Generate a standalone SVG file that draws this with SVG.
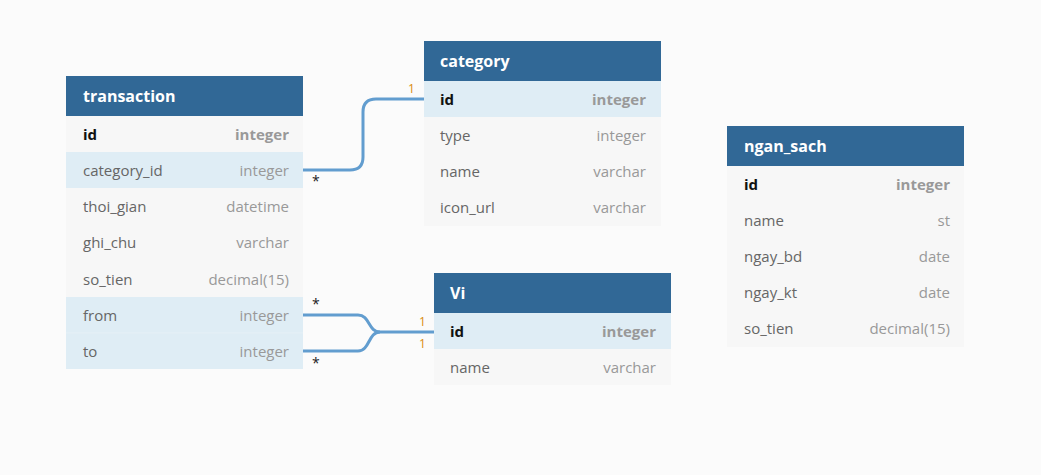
<svg xmlns="http://www.w3.org/2000/svg" width="1041" height="475" viewBox="0 0 1041 475">
<style>
.bg{fill:#fbfbfb}
.hd{fill:#316896}
.row{fill:#f7f7f7}
.hl{fill:#dfedf5}
.title{font-family:"Open Sans",sans-serif;font-size:16px;font-weight:bold;fill:#ffffff}
.fn{font-family:"Open Sans",sans-serif;font-size:15px;fill:#666666}
.fk{font-family:"Open Sans",sans-serif;font-size:15px;font-weight:bold;fill:#111111}
.ty{font-family:"Open Sans",sans-serif;font-size:15px;fill:#999999;text-anchor:end}
.tk{font-family:"Open Sans",sans-serif;font-size:15px;font-weight:bold;fill:#999999;text-anchor:end}
.ln{fill:none;stroke:#629dcf;stroke-width:3}
.one{font-family:"Open Sans",sans-serif;font-size:12px;fill:#d98c10}
.many{font-family:"Open Sans",sans-serif;font-size:14px;fill:#222222}
</style>
<rect class="bg" x="0" y="0" width="1041" height="475"/>
<g id="connectors">
<path class="ln" d="M303,170 H350 Q363,170 363,157 V112 Q363,99 376,99 H424"/>
<path class="ln" d="M303,315 H358 C370,315 368,332 380,332 H434"/>
<path class="ln" d="M303,351 H358 C370,351 368,332 380,332"/>
<text class="one" x="408" y="93">1</text>
<text class="many" x="312" y="186">*</text>
<text class="many" x="312" y="309">*</text>
<text class="many" x="312" y="368">*</text>
<text class="one" x="419" y="326">1</text>
<text class="one" x="419" y="348">1</text>
</g>
<g id="transaction">
<rect class="hd" x="66" y="76" width="237" height="40"/>
<text class="title" x="83" y="102">transaction</text>
<rect class="row" x="66" y="116" width="237" height="253"/>
<rect class="hl" x="66" y="152" width="237" height="36"/>
<rect class="hl" x="66" y="297" width="237" height="72"/>
<line x1="66" y1="333" x2="303" y2="333" stroke="#e6f0f6" stroke-width="1"/>
<text class="fk" x="83" y="140">id</text><text class="tk" x="289" y="140">integer</text>
<text class="fn" x="83" y="176">category_id</text><text class="ty" x="289" y="176">integer</text>
<text class="fn" x="83" y="212">thoi_gian</text><text class="ty" x="289" y="212">datetime</text>
<text class="fn" x="83" y="248">ghi_chu</text><text class="ty" x="289" y="248">varchar</text>
<text class="fn" x="83" y="285">so_tien</text><text class="ty" x="289" y="285">decimal(15)</text>
<text class="fn" x="83" y="321">from</text><text class="ty" x="289" y="321">integer</text>
<text class="fn" x="83" y="357">to</text><text class="ty" x="289" y="357">integer</text>
</g>
<g id="category">
<rect class="hd" x="424" y="41" width="237" height="40"/>
<text class="title" x="440" y="67">category</text>
<rect class="row" x="424" y="81" width="237" height="145"/>
<rect class="hl" x="424" y="81" width="237" height="36"/>
<text class="fk" x="440" y="105">id</text><text class="tk" x="646" y="105">integer</text>
<text class="fn" x="440" y="141">type</text><text class="ty" x="646" y="141">integer</text>
<text class="fn" x="440" y="177">name</text><text class="ty" x="646" y="177">varchar</text>
<text class="fn" x="440" y="213">icon_url</text><text class="ty" x="646" y="213">varchar</text>
</g>
<g id="Vi">
<rect class="hd" x="434" y="273" width="237" height="40"/>
<text class="title" x="450" y="299">Vi</text>
<rect class="row" x="434" y="313" width="237" height="72"/>
<rect class="hl" x="434" y="313" width="237" height="36"/>
<text class="fk" x="450" y="337">id</text><text class="tk" x="656" y="337">integer</text>
<text class="fn" x="450" y="373">name</text><text class="ty" x="656" y="373">varchar</text>
</g>
<g id="ngan_sach">
<rect class="hd" x="727" y="126" width="237" height="40"/>
<text class="title" x="744" y="152">ngan_sach</text>
<rect class="row" x="727" y="166" width="237" height="181"/>
<text class="fk" x="744" y="190">id</text><text class="tk" x="950" y="190">integer</text>
<text class="fn" x="744" y="226">name</text><text class="ty" x="950" y="226">st</text>
<text class="fn" x="744" y="262">ngay_bd</text><text class="ty" x="950" y="262">date</text>
<text class="fn" x="744" y="298">ngay_kt</text><text class="ty" x="950" y="298">date</text>
<text class="fn" x="744" y="334">so_tien</text><text class="ty" x="950" y="334">decimal(15)</text>
</g>
</svg>
